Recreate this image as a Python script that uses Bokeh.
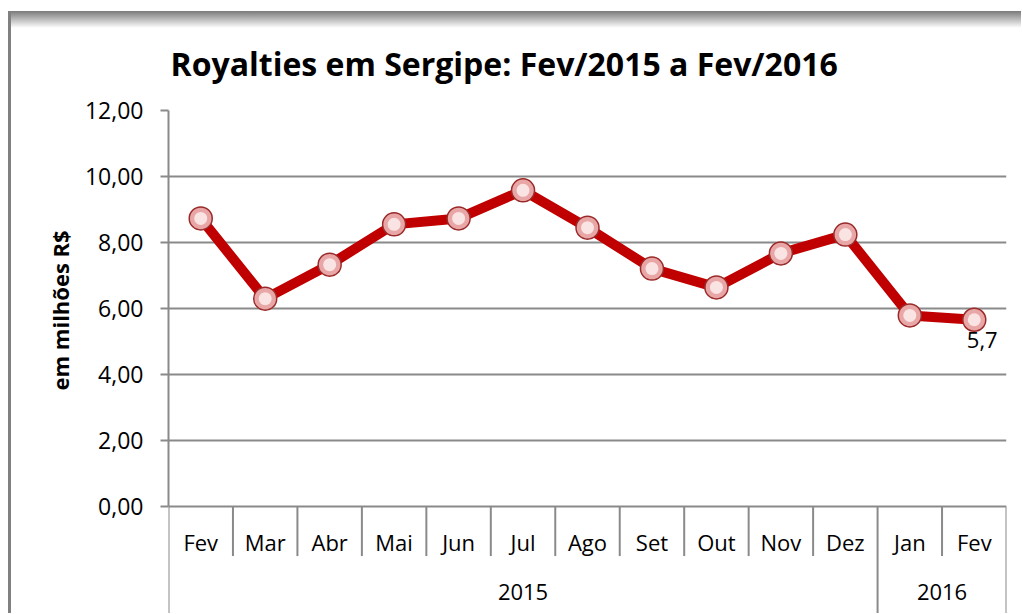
from bokeh.plotting import figure
from bokeh.models import Range1d, FixedTicker, Title, ColumnDataSource
from bokeh.core.properties import value
from bokeh.embed import file_html
from bokeh.resources import INLINE

months = ["Fev", "Mar", "Abr", "Mai", "Jun", "Jul", "Ago", "Set", "Out", "Nov", "Dez", "Jan", "Fev"]
years = ["2015", "2016"]
year_counts = [11, 2]
royalties = [8.73, 6.30, 7.33, 8.55, 8.73, 9.58, 8.45, 7.21, 6.64, 7.67, 8.24, 5.79, 5.66]
y_ticks = [0, 2, 4, 6, 8, 10, 12]

FONT = "Open Sans"
GRID = "#8a8a8a"
Y_MIN = -3.24

n = len(months)
xs = [i + 0.5 for i in range(n)]

p = figure(width=1021, height=613, output_backend="svg", toolbar_location=None,
           x_range=Range1d(0, n), y_range=Range1d(Y_MIN, 12),
           min_border_left=168, min_border_right=15, min_border_top=110, min_border_bottom=0)
p.border_fill_color = None
p.background_fill_color = "white"
p.outline_line_color = None
p.styles = {"background": "linear-gradient(#808080, #808080) 8px 11px / 3px calc(100% - 11px) no-repeat, "
                          "linear-gradient(to bottom, #7a7a7a, #ffffff) 8px 11px / 100% 17px no-repeat, #ffffff"}

t = Title(text="Royalties em Sergipe: Fev/2015 a Fev/2016", align="left", offset=2,
          text_font=FONT, text_font_size="32px", text_font_style="bold", text_color="black", standoff=52)
p.add_layout(t, "above")

p.xaxis.visible = False
p.xgrid.visible = False

ya = p.yaxis[0]
ya.ticker = FixedTicker(ticks=y_ticks)
ya.bounds = (0, 12)
ya.major_label_overrides = {v: f"{v:.2f}".replace(".", ",") for v in y_ticks}
ya.major_label_text_font = FONT
ya.major_label_text_font_size = "23px"
ya.major_label_text_color = "black"
ya.major_label_standoff = 17
ya.major_tick_out = 8
ya.major_tick_in = 0
ya.minor_tick_out = 0
ya.minor_tick_in = 0
ya.axis_line_color = GRID
ya.axis_line_width = 2
ya.major_tick_line_color = GRID
ya.major_tick_line_width = 2

ylab = Title(text="em milhões R$", align="left", offset=223, standoff=14,
             text_font=FONT, text_font_size="22px", text_font_style="bold", text_color="black")
p.add_layout(ylab, "left")

p.ygrid.grid_line_color = GRID
p.ygrid.grid_line_width = 2
p.ygrid.ticker = FixedTicker(ticks=y_ticks)

# category axis separators
bounds = [0]
for c in year_counts:
    bounds.append(bounds[-1] + c)
month_seps = [i for i in range(1, n) if i not in bounds]
p.segment(x0=month_seps, y0=[0] * len(month_seps), x1=month_seps, y1=[-1.5] * len(month_seps),
          line_color=GRID, line_width=2)
p.segment(x0=bounds, y0=[0] * len(bounds), x1=bounds, y1=[Y_MIN] * len(bounds),
          line_color=GRID, line_width=2)

p.text(x=xs, y=[-1.06] * n, text=months, text_align="center", text_baseline="middle",
       text_font=value(FONT), text_font_size="22px", text_color="black")
year_x = [(bounds[i] + bounds[i + 1]) / 2 for i in range(len(years))]
p.text(x=year_x, y=[-2.58] * len(years), text=years, text_align="center", text_baseline="middle",
       text_font=value(FONT), text_font_size="22px", text_color="black")

src = ColumnDataSource(dict(x=xs, y=royalties))
p.line("x", "y", source=src, line_color="#c00000", line_width=10, line_join="round")
p.scatter("x", "y", source=src, size=23, fill_color="#e8a6a6", line_color="#9a2a2a", line_width=1.5)
p.scatter("x", "y", source=src, size=13, fill_color="#fbe6e6", line_color=None, fill_alpha=0.95)

last = royalties[-1]
p.text(x=[xs[-1]], y=[last], text=[f"{last:.1f}".replace(".", ",")], x_offset=8, y_offset=20,
       text_align="center", text_baseline="middle",
       text_font=value(FONT), text_font_size="22px", text_color="black")

open("out.html", "w").write(file_html(p, INLINE))
